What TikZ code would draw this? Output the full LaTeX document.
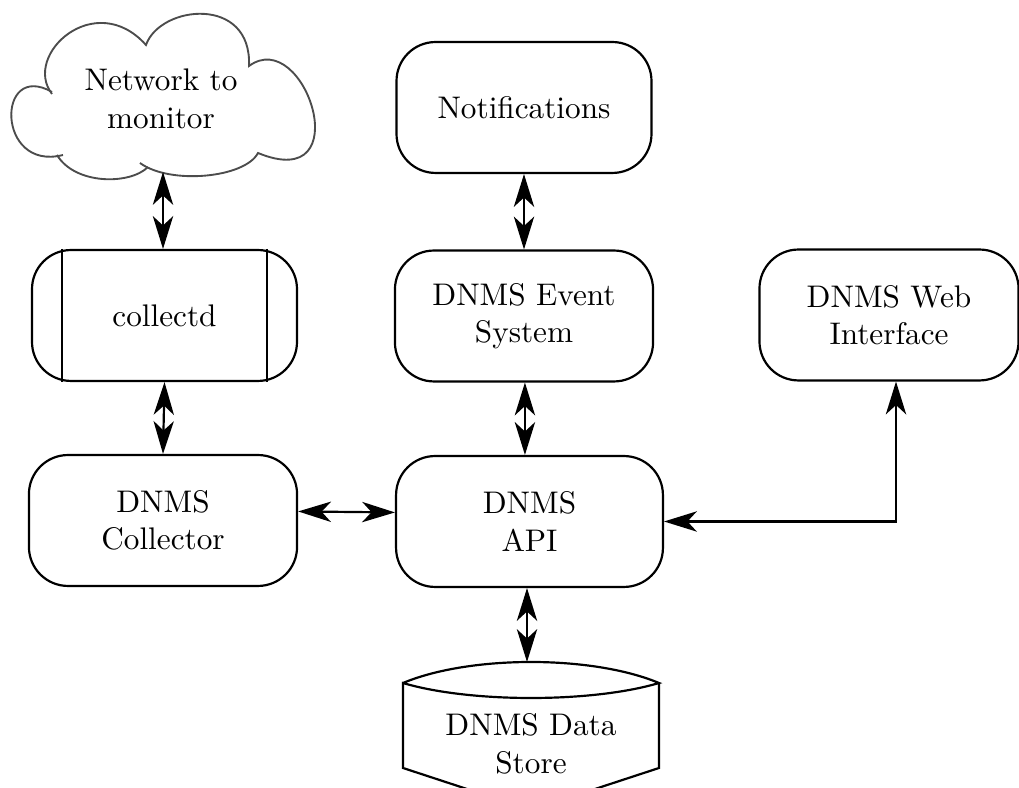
\documentclass[tikz,border=0pt]{standalone}
\usetikzlibrary{arrows.meta}
\begin{document}
\begin{tikzpicture}[x=0.32pt,y=-0.32pt,
  box/.style={draw, line width=0.7pt, rounded corners=12.5pt, align=center, minimum height=41.9pt, inner sep=0pt},
  arr/.style={{Stealth[length=10.5pt,width=6.5pt,inset=3pt]}-{Stealth[length=10.5pt,width=6.5pt,inset=3pt]}, line width=0.7pt},
  cloudline/.style={draw=black!70, line width=0.6pt}]
\useasboundingbox (0,0) rectangle (1019,788);
% cloud
\draw[cloudline] (52,94) .. controls (22,55) and (95,-12) .. (146,45)
  .. controls (160,5) and (252,-5) .. (249,66)
  .. controls (305,25) and (360,195) .. (258,153)
  .. controls (245,178) and (170,185) .. (140,163);
\draw[cloudline] (148,167) .. controls (130,185) and (75,185) .. (57,155);
\draw[cloudline] (63,155) .. controls (-4,172) and (-4,60) .. (52,92);
\node[align=center, inner sep=0pt] (net) at (161,99) {Network to\\monitor};
\coordinate (netb) at (163,172);
% nodes
\node[box, minimum width=81.6pt] (notif) at (524,107.5) {Notifications};
\node[box, minimum width=84.8pt] (collectd) at (164.5,315.5) {collectd};
\draw[line width=0.7pt] ([xshift=9.9pt]collectd.north west) -- ([xshift=9.9pt]collectd.south west);
\draw[line width=0.7pt] ([xshift=-9.9pt]collectd.north east) -- ([xshift=-9.9pt]collectd.south east);
\node[box, minimum width=82.6pt] (event) at (524,316) {DNMS Event\\System};
\node[box, minimum width=82.9pt] (web) at (889,315) {DNMS Web\\Interface};
\node[box, minimum width=85.8pt] (coll) at (163,520.5) {DNMS\\Collector};
\node[box, minimum width=85.4pt] (api) at (529.5,521.5) {DNMS\\API};
% data store
\draw[line width=0.7pt] (403,683) .. controls (470,655) and (592,655) .. (659,683)
  .. controls (592,703) and (470,703) .. (403,683) -- (403,768) -- (531,810) -- (659,768) -- (659,683);
\coordinate (storetop) at (527,662);
\node[align=center, inner sep=0pt] (store) at (531,744) {DNMS Data\\Store};
% connectors
\coordinate (wb) at ([xshift=2.24pt]web.south);
\coordinate (ea) at ([xshift=0.3pt]event.south);
\draw[arr] (netb) -- (netb |- collectd.north);
\draw[arr] (collectd.south) -- (coll.north);
\draw[arr] (notif.south) -- (event.north);
\draw[arr] (ea) -- (ea |- api.north);
\draw[arr] ([yshift=2.9pt]coll.east) -- ([yshift=2.9pt]api.west);
\draw[arr] (storetop |- api.south) -- (storetop);
\draw[arr] (api.east) -- (api.east -| wb) -- (wb);
\end{tikzpicture}
\end{document}
